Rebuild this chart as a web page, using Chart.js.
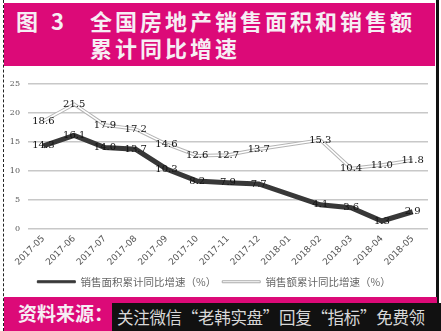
<!DOCTYPE html>
<html>
<head>
<meta charset="utf-8">
<script src="https://cdn.jsdelivr.net/npm/chart.js@4"></script>
<style>
  html, body { margin: 0; padding: 0; background: #fff; }
  #page { position: relative; width: 441px; height: 331px; overflow: hidden; background: #fff;
          font-family: "Noto Sans CJK SC", sans-serif; }
  #frame { position: absolute; left: 3px; top: 0; width: 432px; height: 331px;
           border-left: 1px dashed #222; border-right: 3px solid #111; }
  #head { position: absolute; left: 4px; top: 3px; width: 431px; height: 63px; background: #dc0a78; color: #f6eef4;
          font-weight: bold; font-size: 22px; line-height: 27px; }
  #head .num { position: absolute; left: 12px; top: 4px; letter-spacing: 4px; }
  #head .t { position: absolute; left: 86px; top: 4px; letter-spacing: 3px; }
  #foot { position: absolute; left: 4px; top: 297px; width: 433px; height: 34px; background: #dc0a78; }
  #foot .src { position: absolute; left: 14px; top: 2px; color: #f6eef4; font-weight: bold; font-size: 19px; }
  #ad { position: absolute; left: 112px; top: 303px; width: 329px; height: 28px; background: #111;
        color: #d8d8d8; font-size: 16.5px; line-height: 28px; padding-left: 5px; box-sizing: border-box;
        white-space: nowrap; letter-spacing: -0.3px; }
  #wrap { position: absolute; left: 0; top: 66px; width: 441px; height: 231px; }
</style>
</head>
<body>
<div id="page">
  <div id="frame"></div>
  <div id="head"><span class="num">图 3</span><span class="t">全国房地产销售面积和销售额<br>累计同比增速</span></div>
  <div id="wrap"><canvas id="chart-sales"></canvas></div>
  <div id="foot"><span class="src">资料来源：</span></div>
  <div id="ad">关注微信“老韩实盘”回复“指标”免费领</div>
</div>
<script>
// months (2018-01 has no separate figure, Jan-Feb is reported together)
const months = ['2017-05', '2017-06', '2017-07', '2017-08', '2017-09', '2017-10', '2017-11',
                '2017-12', '2018-01', '2018-02', '2018-03', '2018-04', '2018-05'];
const areaGrowth = [14.3, 16.1, 14.0, 13.7, 10.3, 8.2, 7.9, 7.7, null, 4.1, 3.6, 1.3, 2.9];
const valueGrowth = [18.6, 21.5, 17.9, 17.2, 14.6, 12.6, 12.7, 13.7, null, 15.3, 10.4, 11.0, 11.8];
const yTicks = [0, 5, 10, 15, 20, 25];

const areaName = '销售面积累计同比增速（%）';
const valueName = '销售额累计同比增速（%）';

// value labels centred on each point
const pointLabels = {
    id: 'pointLabels',
    afterDatasetsDraw(chart) {
        const ctx = chart.ctx;
        ctx.save();
        ctx.font = '10px "DejaVu Serif", serif';
        ctx.fillStyle = '#111';
        ctx.textAlign = 'center';
        ctx.textBaseline = 'middle';
        chart.data.datasets.forEach((ds, i) => {
            if (!ds.showValues) return;
            chart.getDatasetMeta(i).data.forEach((pt, j) => {
                const v = ds.data[j];
                if (v == null) return;
                ctx.fillText(v.toFixed(1), pt.x, pt.y);
            });
        });
        ctx.restore();
    }
};

const salesCot = document.getElementById('chart-sales');

let salesChart = new Chart(salesCot, {
    type: 'line',
    data: {
        labels: months,
        datasets: [{
            label: areaName,
            data: areaGrowth,
            borderColor: '#383838',
            backgroundColor: '#383838',
            borderWidth: 5,
            pointRadius: 0,
            spanGaps: true,
            showValues: true,
            order: 2
        }, {
            label: 'outline',
            data: valueGrowth,
            borderColor: '#b4b4b4',
            borderWidth: 3.5,
            pointRadius: 0,
            spanGaps: true,
            order: 1
        }, {
            label: valueName,
            data: valueGrowth,
            borderColor: '#ffffff',
            backgroundColor: '#ffffff',
            borderWidth: 1.5,
            pointRadius: 0,
            spanGaps: true,
            showValues: true,
            order: 0
        }]
    },
    options: {
        responsive: true,
        maintainAspectRatio: false,
        animation: false,
        layout: {
            padding: { left: 0, right: 13, top: 18, bottom: 0 }
        },
        scales: {
            x: {
                offset: true,
                grid: { display: false, drawTicks: true, tickLength: 3 },
                border: { display: false },
                ticks: {
                    color: '#555',
                    font: { size: 9, family: '"DejaVu Sans", sans-serif' },
                    minRotation: 45,
                    maxRotation: 45,
                    autoSkip: false,
                    padding: 2
                },
                afterFit(axis) { axis.height = 42; }
            },
            y: {
                min: 0,
                max: 25,
                afterBuildTicks(axis) { axis.ticks = yTicks.map(v => ({ value: v })); },
                grid: { color: '#c8c8c8', lineWidth: 1.5, drawTicks: false },
                border: { display: false },
                ticks: {
                    color: '#555',
                    font: { size: 8, family: '"DejaVu Serif", serif' },
                    padding: 8
                },
                afterFit(axis) { axis.width = 28; }
            }
        },
        plugins: {
            legend: {
                position: 'bottom',
                labels: {
                    filter: (item) => item.text !== 'outline',
                    boxWidth: 38,
                    boxHeight: 2,
                    padding: 6,
                    color: '#666',
                    font: { size: 10.5, family: '"Noto Sans CJK SC", sans-serif' },
                    generateLabels(chart) {
                        return chart.data.datasets.map((ds, i) => ({
                            text: ds.label,
                            fillStyle: ds.borderColor,
                            strokeStyle: i === 2 ? '#aaa' : ds.borderColor,
                            lineWidth: 1,
                            datasetIndex: i,
                            fontColor: '#666'
                        }));
                    }
                }
            },
            tooltip: { enabled: false }
        }
    },
    plugins: [pointLabels]
});
</script>
</body>
</html>
